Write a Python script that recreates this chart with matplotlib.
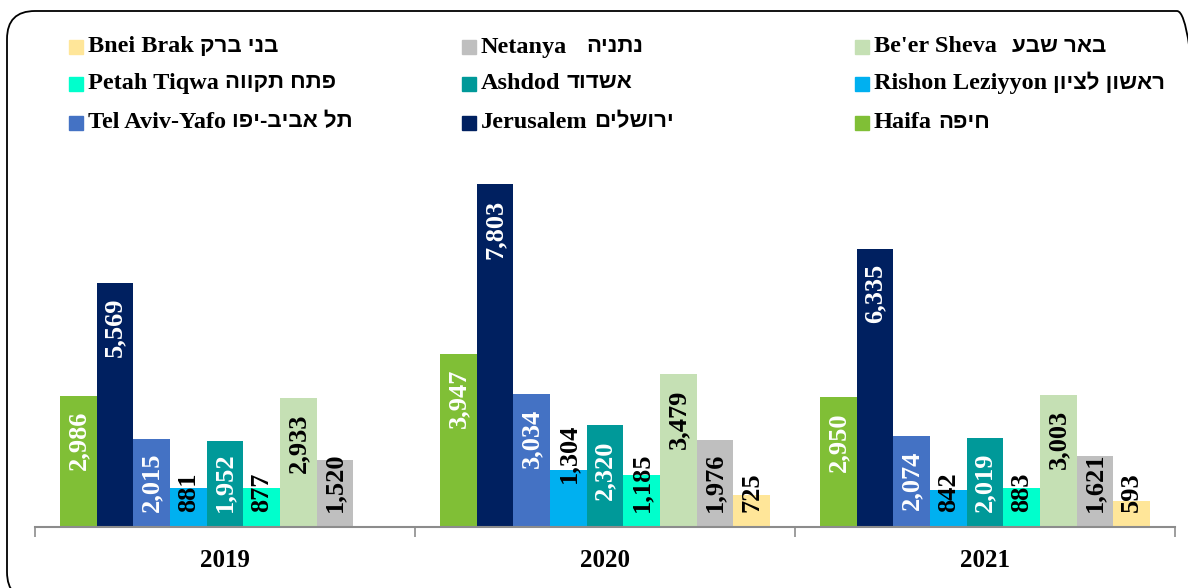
import matplotlib
matplotlib.use('Agg')
import matplotlib.pyplot as plt
import numpy as np
from matplotlib.patches import FancyBboxPatch, Rectangle
from matplotlib.transforms import IdentityTransform

plt.rcParams['font.family'] = ['Liberation Serif', 'DejaVu Sans']
plt.rcParams['font.weight'] = 'bold'

# Data
years = ['2019', '2020', '2021']
cities_en = ['Haifa', 'Jerusalem', 'Tel Aviv-Yafo', 'Rishon Leziyyon', 'Ashdod',
             'Petah Tiqwa', "Be'er Sheva", 'Netanya', 'Bnei Brak']
cities_he = ['חיפה', 'ירושלים', 'תל אביב-יפו', 'ראשון לציון', 'אשדוד',
             'פתח תקווה', 'באר שבע', 'נתניה', 'בני ברק']
haifa = [2986, 3947, 2950]
jerusalem = [5569, 7803, 6335]
tel_aviv = [2015, 3034, 2074]
rishon = [881, 1304, 842]
ashdod = [1952, 2320, 2019]
petah_tiqwa = [877, 1185, 883]
beer_sheva = [2933, 3479, 3003]
netanya = [1520, 1976, 1621]
bnei_brak = [np.nan, 725, 593]
series = [haifa, jerusalem, tel_aviv, rishon, ashdod, petah_tiqwa, beer_sheva, netanya, bnei_brak]

colors = ['#80BF36', '#002060', '#4472C4', '#00B0F0', '#009999',
          '#00FFCC', '#C5E0B4', '#BFBFBF', '#FFE699']
label_colors = ['white', 'white', 'white', 'black', 'white',
                'black', 'black', 'black', 'black']
# extra space (px) between english and hebrew name in the legend
he_gap = [6, 6, 6, 6, 6, 6, 15, 19, 6]

W, H = 1188, 588
fig = plt.figure(figsize=(W / 100, H / 100), dpi=100)
ax = fig.add_axes([35 / W, 61 / H, 1140 / W, 378 / H])
ymax = 8610
ax.set_xlim(-0.5, 2.5)
ax.set_ylim(0, ymax)
px_per_unit = 378 / ymax

bw = 0.0965
x = np.arange(len(years))
renderer = fig.canvas.get_renderer()
margin = 15 / px_per_unit
for k, vals in enumerate(series):
    xs = x + (k - 4) * bw
    ax.bar(xs, vals, width=bw, color=colors[k], edgecolor='none')
    for xi, v in zip(xs, vals):
        if np.isnan(v):
            continue
        t = ax.text(xi, v - margin, f'{v:,}', rotation=90, ha='center', va='top',
                    fontsize=19, fontweight='bold', color=label_colors[k])
        length = t.get_window_extent(renderer).height / px_per_unit
        if v - margin - length < margin:
            t.set_y(margin)
            t.set_va('bottom')
        if v == 1304:
            t.set_y(margin + 29 / px_per_unit)

for side in ['left', 'right', 'top']:
    ax.spines[side].set_visible(False)
ax.spines['bottom'].set_color('#8c8c8c')
ax.spines['bottom'].set_linewidth(1.5)
ax.set_yticks([])
ax.set_xticks(x)
ax.set_xticklabels(years, fontsize=18, fontweight='bold')
ax.tick_params(axis='x', which='major', length=0, pad=16)
ax.set_xticks([-0.5, 0.5, 1.5, 2.5], minor=True)
ax.tick_params(axis='x', which='minor', length=7, color='#8c8c8c', width=1.2)

# legend, reversed order, filled row by row
col_marker = [69, 462, 855]
row_y = [47, 84, 123]
order = list(range(len(series)))[::-1]
for i, k in enumerate(order):
    r, c = divmod(i, 3)
    mx, my = col_marker[c], row_y[r]
    fig.add_artist(Rectangle((mx / W, 1 - (my + 7) / H), 14 / W, 14 / H,
                             transform=fig.transFigure, color=colors[k]))
    t = fig.text((mx + 19) / W, 1 - my / H, cities_en[k], fontsize=17.5,
                 fontweight='bold', va='center', ha='left')
    x1 = t.get_window_extent(renderer).x1
    fig.text((x1 + he_gap[k]) / W, 1 - (my - 1) / H, cities_he[k][::-1], fontsize=16,
             fontweight='bold', va='center', ha='left',
             family=['Liberation Sans', 'DejaVu Sans'])

# rounded frame
frame = FancyBboxPatch((7, -12), 1198, 589, boxstyle='round,pad=0,rounding_size=28',
                       transform=IdentityTransform(), fill=False, edgecolor='black', lw=1.3)
fig.add_artist(frame)

fig.savefig('out.png', dpi=100)
